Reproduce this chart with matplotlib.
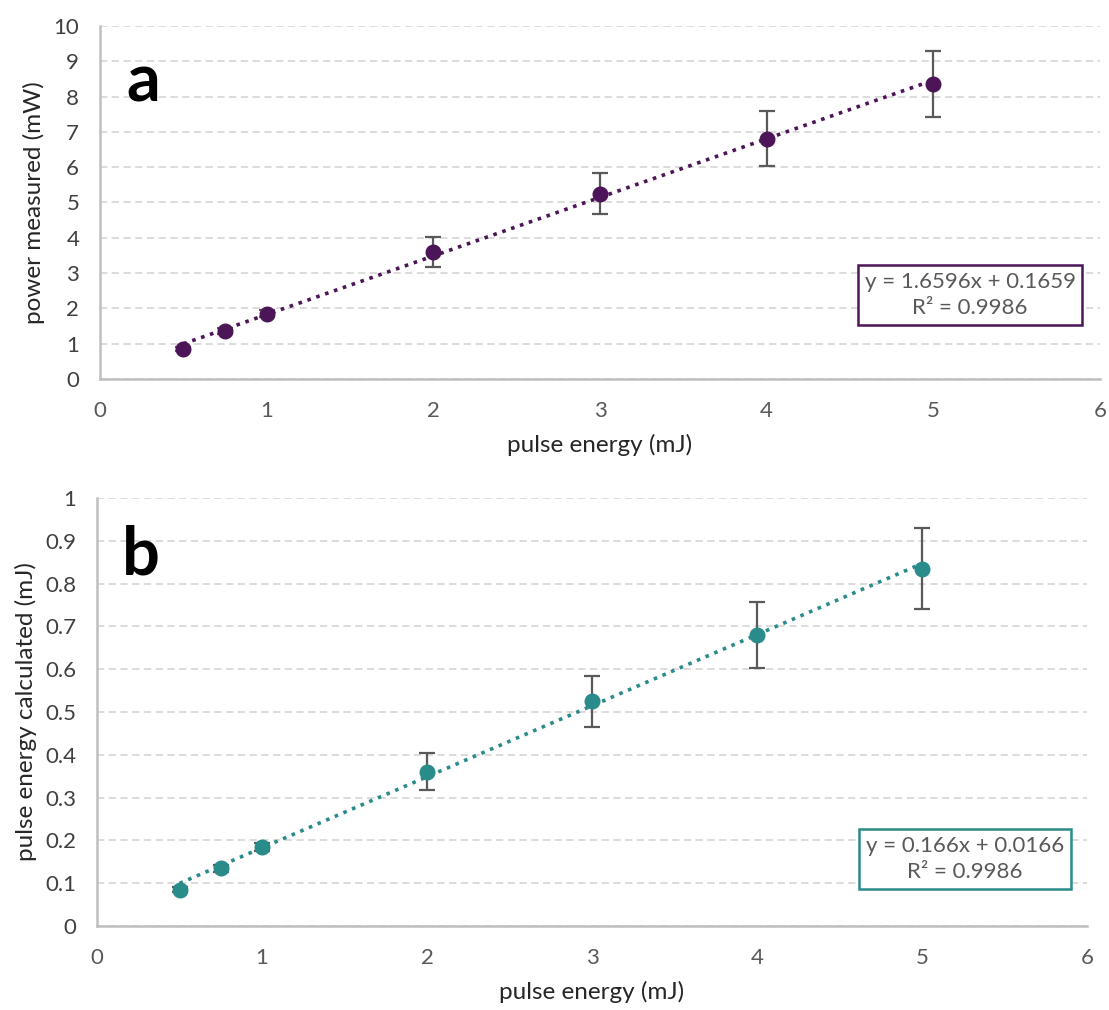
import numpy as np
import matplotlib
matplotlib.use('Agg')
from matplotlib import pyplot as plt

plt.rcParams['font.family'] = ['Lato', 'DejaVu Sans']

# data
energy = [0.5, 0.75, 1, 2, 3, 4, 5]
power = [0.85, 1.35, 1.85, 3.6, 5.25, 6.8, 8.35]
power_err = [0.06, 0.08, 0.1, 0.43, 0.58, 0.78, 0.93]
calc = [0.085, 0.135, 0.185, 0.36, 0.525, 0.68, 0.835]
calc_err = [0.006, 0.008, 0.009, 0.043, 0.06, 0.078, 0.094]

fit_a = (1.6596, 0.1659)
fit_b = (0.166, 0.0166)
r2 = 0.9986

purple = '#4b1557'
teal = '#2a8b8b'


def panel(ax, x, y, err, fit, color, ylim, ystep, ylabel, letter, eq, box_xy, letter_xy):
    xs = np.array([min(x), max(x)])
    ax.errorbar(x, y, yerr=err, fmt='none', ecolor='#595959',
                elinewidth=1.6, capsize=6, capthick=1.6, zorder=2)
    ax.plot(xs, fit[0] * xs + fit[1], color=color, lw=2.6, ls=(0, (1, 1.6)), zorder=3)
    ax.plot(x, y, 'o', color=color, ms=10.5, zorder=4)
    ax.set_xlim(0, 6)
    ax.set_ylim(*ylim)
    ax.set_xticks(range(7))
    yt = np.round(np.arange(ylim[0], ylim[1] + ystep / 2, ystep), 2)
    ax.set_yticks(yt)
    ax.set_yticklabels(['%g' % v for v in yt])
    ax.yaxis.grid(True, color='#d9d9d9', ls=(0, (4, 2.5)), lw=1.3)
    ax.set_axisbelow(True)
    for s in ['top', 'right']:
        ax.spines[s].set_visible(False)
    for s in ['left', 'bottom']:
        ax.spines[s].set_color('#bfbfbf')
        ax.spines[s].set_linewidth(1.8)
    ax.tick_params(axis='both', length=0, labelsize=16)
    ax.tick_params(axis='y', labelcolor='#404040', pad=15)
    ax.tick_params(axis='x', labelcolor='#595959', pad=16)
    ax.set_xlabel('pulse energy (mJ)', fontsize=17.5, color='#262626', labelpad=9)
    ax.set_ylabel(ylabel, fontsize=17.5, color='#262626', labelpad=6)
    ax.text(letter_xy[0], letter_xy[1], letter, transform=ax.transAxes, fontsize=48,
            fontweight='bold', color='black', va='baseline', ha='left')
    ax.text(box_xy[0], box_xy[1], eq, ha='center', va='center', fontsize=16,
            color='#595959', linespacing=1.4,
            bbox=dict(boxstyle='square,pad=0.3', fc='white', ec=color, lw=1.8))


fig = plt.figure(figsize=(11.09, 10.10), dpi=100)
ax1 = fig.add_axes([0.0902, 0.6248, 0.9017, 0.3495])
ax2 = fig.add_axes([0.0875, 0.0832, 0.8927, 0.4238])

panel(ax1, energy, power, power_err, fit_a, purple, (0, 10), 1,
      'power measured (mW)', 'a',
      'y = %.4fx + %.4f\nR² = %.4f' % (fit_a[0], fit_a[1], r2), (5.22, 2.38), (0.026, 0.785))
panel(ax2, energy, calc, calc_err, fit_b, teal, (0, 1), 0.1,
      'pulse energy calculated (mJ)', 'b',
      'y = %.3fx + %.4f\nR² = %.4f' % (fit_b[0], fit_b[1], r2), (5.26, 0.157), (0.025, 0.82))

fig.savefig('out.png', dpi=100, facecolor='white')
